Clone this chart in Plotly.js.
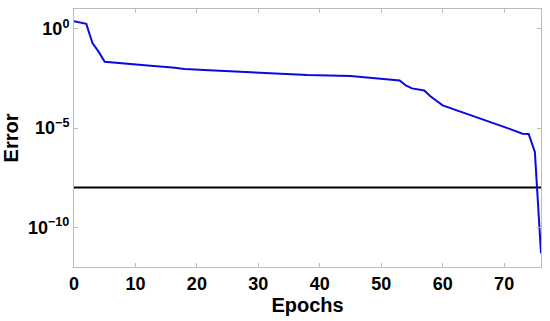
<!DOCTYPE html>
<html>
<head>
<meta charset="utf-8">
<script src="https://cdn.plot.ly/plotly-3.0.1.min.js"></script>
<style>html,body{margin:0;padding:0;background:#fff;}#chart{width:550px;height:321px;}</style>
</head>
<body>
<div id="chart"></div>
<script>
// Training error per epoch (vertices)
const epochs = [0, 2, 3, 4, 5, 9, 12, 16, 18, 22, 30, 38, 45, 48, 50, 53, 54, 55, 57, 58, 60, 63, 66, 68, 71, 73, 74, 75, 76];
const errorValues = [2.4, 1.78, 0.19, 0.071, 0.022, 0.0178, 0.0141, 0.0112, 0.0095, 0.0083, 0.0063, 0.0047, 0.0042, 0.0035, 0.003, 0.0025, 0.0014, 0.001, 0.00079, 0.0004, 0.00014, 6.6e-5, 3.2e-5, 2.0e-5, 8.9e-6, 5.2e-6, 5.0e-6, 6.3e-7, 5e-12];
// Goal line
const goalEpochs = [0, 76];
const goalValues = [1e-8, 1e-8];
// Axis ticks
const xTickVals = [0, 10, 20, 30, 40, 50, 60, 70];
const yTickVals = [1, 1e-5, 1e-10];
const yTickText = ["10<sup>0</sup>", "10<sup>\u22125</sup>", "10<sup>\u221210</sup>"];

const fam = "Liberation Sans, Arial, sans-serif";
const traces = [
  {x: goalEpochs, y: goalValues, mode: "lines", line: {color: "#000", width: 2}, hoverinfo: "skip"},
  {x: epochs, y: errorValues, mode: "lines", line: {color: "#0a0ae0", width: 2}}
];
const axisCommon = {
  showgrid: false, zeroline: false, showline: true, linecolor: "#bdbdbd", linewidth: 1,
  mirror: "ticks", ticks: "inside", ticklen: 4, tickcolor: "#bdbdbd", tickwidth: 1,
  tickfont: {family: fam, size: 18, color: "#000", weight: "bold"}
};
const layout = {
  width: 550, height: 321,
  margin: {l: 74, r: 9, t: 9, b: 54},
  paper_bgcolor: "#fff", plot_bgcolor: "#fff",
  showlegend: false,
  font: {family: fam, size: 18, color: "#000"},
  xaxis: Object.assign({}, axisCommon, {
    range: [0, 76], tickvals: xTickVals,
    title: {text: "<b>Epochs</b>", font: {family: fam, size: 20, color: "#000"}, standoff: 0}
  }),
  yaxis: Object.assign({}, axisCommon, {
    type: "log", range: [-12, 1], tickvals: yTickVals, ticktext: yTickText,
    title: {text: "<b>Error</b>", font: {family: fam, size: 20, color: "#000"}, standoff: 4}
  })
};
Plotly.newPlot("chart", traces, layout, {staticPlot: true, displayModeBar: false});
</script>
</body>
</html>
